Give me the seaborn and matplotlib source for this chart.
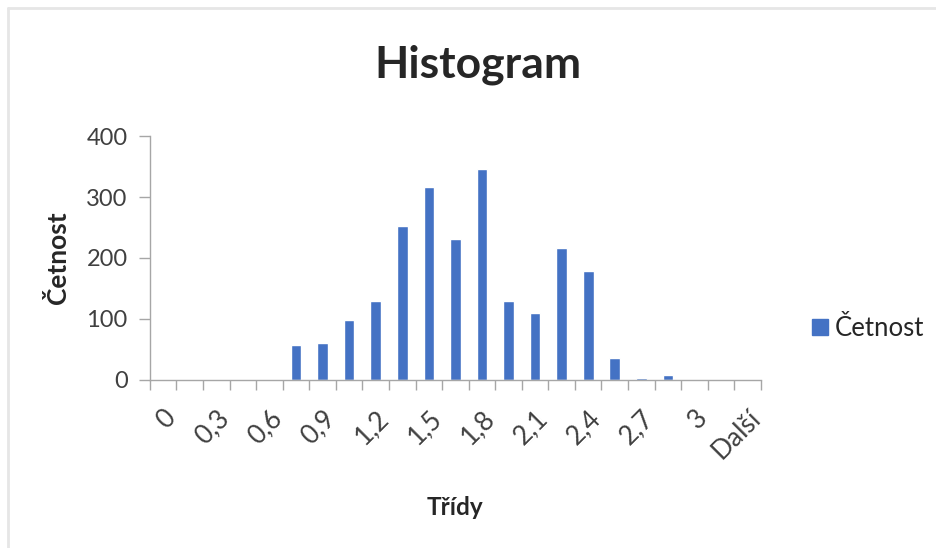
import pandas as pd
import seaborn as sns
import matplotlib.pyplot as plt
import matplotlib.transforms as mtransforms
from matplotlib.lines import Line2D
from matplotlib.ticker import FixedLocator

# classes of the histogram (Excel bins, step 0.15) and counts per class
classes = ['0', '0,15', '0,3', '0,45', '0,6', '0,75', '0,9', '1,05', '1,2', '1,35', '1,5',
           '1,65', '1,8', '1,95', '2,1', '2,25', '2,4', '2,55', '2,7', '2,85', '3', '3,15', 'Další']
counts = [0, 0, 0, 0, 0, 58, 60, 98, 130, 252, 317, 231, 346, 130, 110, 216, 178, 36, 3, 8, 0, 0, 0]
y_ticks = [0, 100, 200, 300, 400]

df = pd.DataFrame({'Třídy': classes, 'Četnost': counts})

sns.set_style('white')
plt.rcParams['font.family'] = ['Lato', 'DejaVu Sans']

fig = plt.figure(figsize=(9.37, 5.48), dpi=100)
ax = fig.add_axes([0.160, 0.3066, 0.652, 0.4452])

sns.barplot(data=df, x='Třídy', y='Četnost', color='#4472C4', width=0.4,
            saturation=1, ax=ax)

ax.set_ylim(0, 400)
ax.set_xlim(-0.5, len(classes) - 0.5)
ax.set_yticks(y_ticks)
ax.set_yticklabels([str(v) for v in y_ticks], fontsize=17, color='#404040')

# labels on every other class, tick marks on class borders
pos = list(range(0, len(classes), 2))
ax.set_xticks(pos)
ax.set_xticklabels([classes[i] for i in pos], rotation=45, ha='right',
                   rotation_mode='anchor', fontsize=19, color='#404040')
shift = mtransforms.ScaledTranslation(-5 / 100, -2 / 100, fig.dpi_scale_trans)
for lab in ax.get_xticklabels():
    lab.set_transform(lab.get_transform() + shift)
ax.xaxis.set_minor_locator(FixedLocator([i - 0.5 for i in range(len(classes) + 1)]))
ax.tick_params(axis='x', which='major', length=0, pad=18)
ax.tick_params(axis='x', which='minor', length=7, width=1, color='#A6A6A6', bottom=True)
ax.tick_params(axis='y', length=8, width=1, color='#A6A6A6', left=True, pad=8)

for side in ['top', 'right']:
    ax.spines[side].set_visible(False)
for side in ['left', 'bottom']:
    ax.spines[side].set_color('#A6A6A6')
    ax.spines[side].set_linewidth(1)

ax.set_xlabel('Třídy', fontsize=17.5, fontweight='bold', labelpad=24)
ax.set_ylabel('Četnost', fontsize=19, fontweight='bold', labelpad=12)
fig.text(0.510, 0.882, 'Histogram', ha='center', va='center', fontsize=32, fontweight='bold')

handle = Line2D([], [], marker='s', linestyle='none', markersize=11, color='#4472C4')
fig.legend([handle], ['Četnost'], loc='center left', bbox_to_anchor=(0.837, 0.40),
           frameon=False, fontsize=18.5, handletextpad=0.05, handlelength=1)

# light frame of the chart area
fig.add_artist(Line2D([0.009, 1.0], [0.985, 0.985], color='#E6E6E6', linewidth=2,
                      transform=fig.transFigure))
fig.add_artist(Line2D([0.009, 0.009], [0.0, 0.985], color='#E6E6E6', linewidth=2,
                      transform=fig.transFigure))

fig.savefig('out.png', dpi=100)
